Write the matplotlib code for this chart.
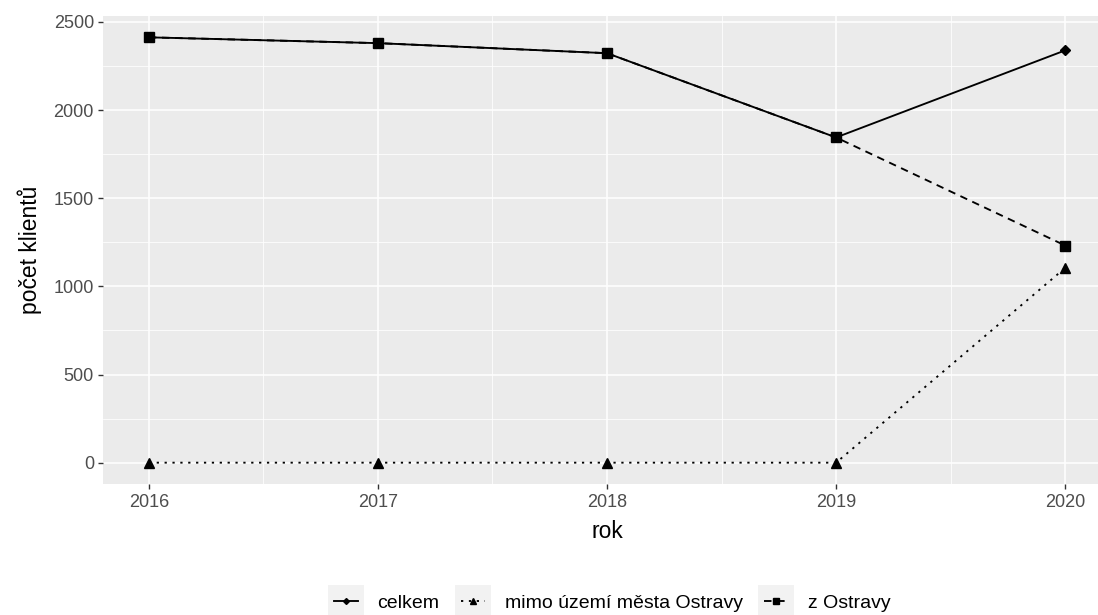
import matplotlib
matplotlib.use("Agg")
import matplotlib.pyplot as plt
from matplotlib.patches import Rectangle
from matplotlib.ticker import MultipleLocator

plt.rcParams["font.family"] = ["Liberation Sans", "DejaVu Sans"]

years = [2016, 2017, 2018, 2019, 2020]
celkem = [2413, 2380, 2323, 1845, 2339]
mimo = [0, 0, 0, 0, 1105]
z_ostravy = [2413, 2380, 2323, 1845, 1232]

series = [
    ("celkem", celkem, "-", "D", 5.0),
    ("mimo území města Ostravy", mimo, (0, (1.2, 3)), "^", 6.5),
    ("z Ostravy", z_ostravy, (0, (4, 3)), "s", 6.8),
]

W, H = 1098, 615
fig = plt.figure(figsize=(W / 100, H / 100), dpi=100)
# panel runs past the right edge of the figure, like the reference
ax = fig.add_axes([103 / W, 1 - 484 / H, (1111 - 103) / W, (484 - 16) / H])
ax.set_facecolor("#EBEBEB")
for s in ax.spines.values():
    s.set_visible(False)

for label, vals, ls, mk, ms in series:
    ax.plot(years, vals, linestyle=ls, color="black", linewidth=1.35,
            marker=mk, markersize=ms, label=label, zorder=3)

ax.set_xlim(2015.8, 2020.2)
ax.set_ylim(-121, 2534)
ax.xaxis.set_major_locator(MultipleLocator(1))
ax.xaxis.set_minor_locator(MultipleLocator(0.5))
ax.yaxis.set_major_locator(MultipleLocator(500))
ax.yaxis.set_minor_locator(MultipleLocator(250))
ax.grid(which="major", color="white", linewidth=1.1)
ax.grid(which="minor", color="white", linewidth=0.55)
ax.set_axisbelow(True)
ax.tick_params(which="major", length=3.5, width=1.0, color="#333333",
               labelcolor="#4D4D4D", labelsize=13)
ax.tick_params(axis="x", pad=4)
ax.tick_params(axis="y", pad=3)
ax.tick_params(which="minor", length=0)

ax.set_xlabel("rok", fontsize=16.5, labelpad=6)
ax.set_ylabel("počet klientů", fontsize=16.5, labelpad=8)

handles, labels = ax.get_legend_handles_labels()
leg = fig.legend(handles, labels, loc="center", bbox_to_anchor=(612 / W, 1 - 603 / H),
                 ncol=3, frameon=False, fontsize=14, handlelength=1.25,
                 columnspacing=1.1, handletextpad=1.0, markerscale=0.6)

# grey key boxes behind the legend symbols (ggplot style)
fig.canvas.draw()
renderer = fig.canvas.get_renderer()
for h in leg.legend_handles:
    bb = h.get_window_extent(renderer)
    cx, cy = (bb.x0 + bb.x1) / 2, (bb.y0 + bb.y1) / 2
    fig.patches.append(Rectangle(((cx - 18) / W, (cy - 16) / H), 36 / W, 32 / H,
                                 transform=fig.transFigure, facecolor="#F2F2F2",
                                 edgecolor="none", zorder=0))

fig.savefig("out.png", dpi=100)
